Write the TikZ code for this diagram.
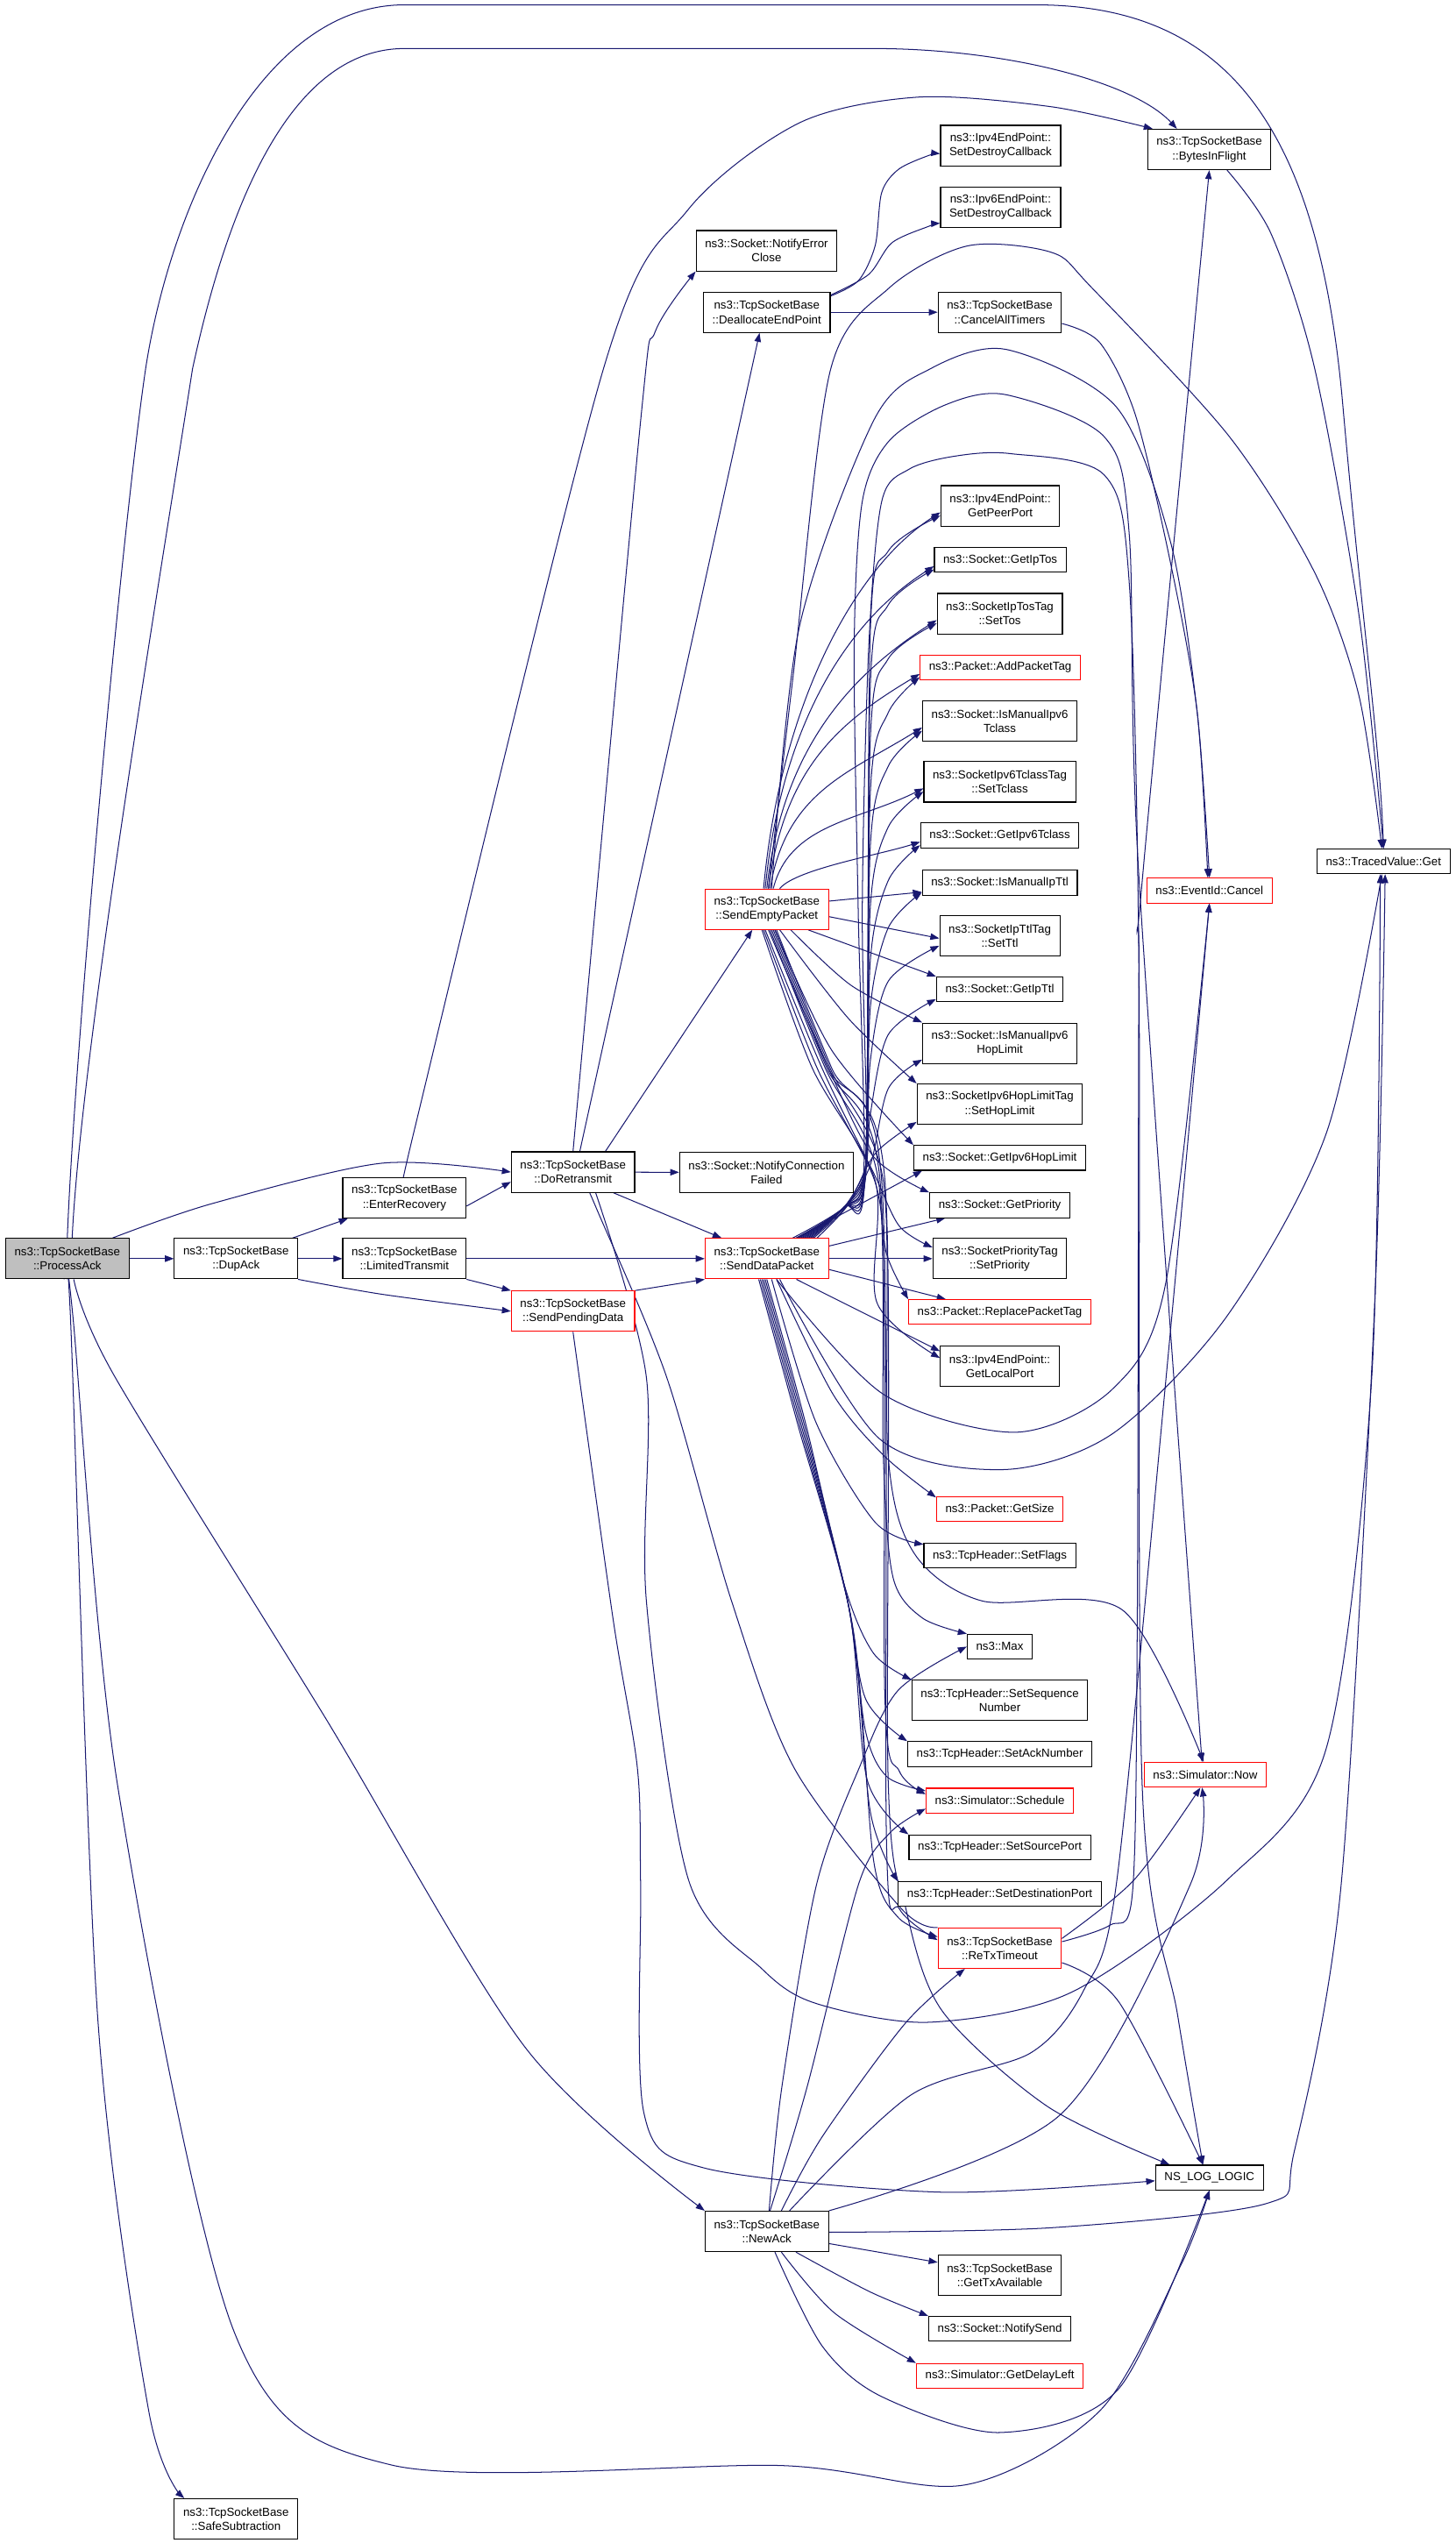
\documentclass[tikz,border=0pt]{standalone}
\usepackage{fontspec}
\setmainfont{Liberation Sans}
\usetikzlibrary{arrows.meta, backgrounds}
\definecolor{edgeblue}{RGB}{25,25,112}
\definecolor{rootgray}{RGB}{191,191,191}
\newcommand{\gfont}{\fontsize{7.2}{8.8}\selectfont}

\begin{document}
\begin{tikzpicture}[x=1pt, y=1pt,
  fnode/.style={draw=black, fill=white, line width=0.6pt, font=\gfont, align=center, inner xsep=5.5pt, inner ysep=1pt, minimum height=15.3pt},
  fnode2/.style={fnode, minimum height=25pt},
  trunc/.style={draw=red},
  call/.style={draw=edgeblue, line width=0.55pt, -{Triangle[length=5.5pt, width=4pt]}}
]
  \useasboundingbox (0,0) rectangle (900,-1571.9);

  \node[fnode2, fill=rootgray] (pa) at (41.6,-778) {ns3::TcpSocketBase\\::ProcessAck};
  \node[fnode2] (dup) at (145.9,-778) {ns3::TcpSocketBase\\::DupAck};
  \node[fnode2] (er) at (250,-740.5) {ns3::TcpSocketBase\\::EnterRecovery};
  \node[fnode2] (lt) at (250,-778) {ns3::TcpSocketBase\\::LimitedTransmit};
  \node[fnode2] (dr) at (354.2,-724.5) {ns3::TcpSocketBase\\::DoRetransmit};
  \node[fnode2, trunc] (spd) at (354.2,-810.5) {ns3::TcpSocketBase\\::SendPendingData};
  \node[fnode2] (nec) at (473.8,-155) {ns3::Socket::NotifyError\\Close};
  \node[fnode2] (dep) at (474,-193) {ns3::TcpSocketBase\\::DeallocateEndPoint};
  \node[fnode2, trunc] (sep) at (474,-562) {ns3::TcpSocketBase\\::SendEmptyPacket};
  \node[fnode2] (ncf) at (473.8,-724.7) {ns3::Socket::NotifyConnection\\Failed};
  \node[fnode2, trunc] (sdp) at (474,-778) {ns3::TcpSocketBase\\::SendDataPacket};
  \node[fnode2] (na) at (474,-1379.3) {ns3::TcpSocketBase\\::NewAck};
  \node[fnode2] (ss) at (145.9,-1557) {ns3::TcpSocketBase\\::SafeSubtraction};

  \node[fnode2] (v4cb) at (618.5,-90) {ns3::Ipv4EndPoint::\\SetDestroyCallback};
  \node[fnode2] (v6cb) at (618.5,-128) {ns3::Ipv6EndPoint::\\SetDestroyCallback};
  \node[fnode2] (cat) at (618,-193) {ns3::TcpSocketBase\\::CancelAllTimers};
  \node[fnode2] (gpp) at (618.3,-312.7) {ns3::Ipv4EndPoint::\\GetPeerPort};
  \node[fnode] (gtos) at (618.3,-346) {ns3::Socket::GetIpTos};
  \node[fnode2] (stos) at (618,-379.3) {ns3::SocketIpTosTag\\::SetTos};
  \node[fnode, trunc] (apt) at (618.3,-412.6) {ns3::Packet::AddPacketTag};
  \node[fnode2] (imtc) at (618,-445.7) {ns3::Socket::IsManualIpv6\\Tclass};
  \node[fnode2] (stc) at (618,-483.3) {ns3::SocketIpv6TclassTag\\::SetTclass};
  \node[fnode] (gtc) at (618,-516.4) {ns3::Socket::GetIpv6Tclass};
  \node[fnode] (imttl) at (618,-545.6) {ns3::Socket::IsManualIpTtl};
  \node[fnode2] (sttl) at (618,-578.6) {ns3::SocketIpTtlTag\\::SetTtl};
  \node[fnode] (gttl) at (618,-611.6) {ns3::Socket::GetIpTtl};
  \node[fnode2] (imhl) at (618,-645) {ns3::Socket::IsManualIpv6\\HopLimit};
  \node[fnode2] (shl) at (618,-682.5) {ns3::SocketIpv6HopLimitTag\\::SetHopLimit};
  \node[fnode] (ghl) at (618,-715.7) {ns3::Socket::GetIpv6HopLimit};
  \node[fnode] (gpr) at (618,-745) {ns3::Socket::GetPriority};
  \node[fnode2] (spr) at (618,-778) {ns3::SocketPriorityTag\\::SetPriority};
  \node[fnode, trunc] (rpt) at (618,-811) {ns3::Packet::ReplacePacketTag};
  \node[fnode2] (glp) at (618,-844.4) {ns3::Ipv4EndPoint::\\GetLocalPort};
  \node[fnode, trunc] (gsz) at (618,-932.6) {ns3::Packet::GetSize};
  \node[fnode] (sfl) at (618,-961.6) {ns3::TcpHeader::SetFlags};
  \node[fnode] (max) at (618,-1017.8) {ns3::Max};
  \node[fnode2] (sseq) at (618,-1051) {ns3::TcpHeader::SetSequence\\Number};
  \node[fnode] (sack) at (618,-1084.2) {ns3::TcpHeader::SetAckNumber};
  \node[fnode, trunc] (sch) at (618,-1113) {ns3::Simulator::Schedule};
  \node[fnode] (ssp) at (618,-1141.8) {ns3::TcpHeader::SetSourcePort};
  \node[fnode] (sdpt) at (618,-1170.8) {ns3::TcpHeader::SetDestinationPort};
  \node[fnode2, trunc] (rtx) at (618,-1204.2) {ns3::TcpSocketBase\\::ReTxTimeout};
  \node[fnode2] (gtx) at (618,-1406.4) {ns3::TcpSocketBase\\::GetTxAvailable};
  \node[fnode] (nsend) at (618,-1439.5) {ns3::Socket::NotifySend};
  \node[fnode, trunc] (gdl) at (618,-1468.6) {ns3::Simulator::GetDelayLeft};

  \node[fnode2] (bif) at (747.5,-92.4) {ns3::TcpSocketBase\\::BytesInFlight};
  \node[fnode, trunc] (evc) at (747.6,-550.5) {ns3::EventId::Cancel};
  \node[fnode, trunc] (now) at (745,-1097) {ns3::Simulator::Now};
  \node[fnode] (log) at (747.6,-1346) {NS\_LOG\_LOGIC};
  \node[fnode] (tv) at (855.2,-532.4) {ns3::TracedValue::Get};

  \begin{scope}[on background layer]
  \fill[white] (0,0) rectangle (900,-1571.9);

  \draw[call] (pa.north) .. controls (46,-650) and (75,-330) .. (90,-228) .. controls (105,-130) and (160,-3) .. (250,-3) -- (640,-3) .. controls (760,-3) and (815,-80) .. (830,-250) .. controls (842,-386) and (853,-460) .. (tv.north);
  \draw[call] ([xshift=3]pa.north) .. controls (50,-650) and (100,-350) .. (119,-228) .. controls (138,-140) and (175,-30) .. (250,-30) -- (540,-30) .. controls (620,-30) and (700,-50) .. ([xshift=-20]bif.north);
  \draw[call] (pa) -- (dup);
  \draw[call] plot[smooth] coordinates {([xshift=28]pa.north) (131,-744) (236,-719) (dr.west)};
  \draw[call] plot[smooth] coordinates {([xshift=4]pa.south) (71,-851) (200,-1060) (325,-1266) (na.north west)};
  \draw[call] plot[smooth] coordinates {(pa.south) (45,-813) (72.6,-1103) (145,-1442) (241.7,-1523.6) (483,-1524) (596.4,-1536) (680,-1490) (730,-1400) (log.south)};
  \draw[call] plot[smooth] coordinates {([xshift=-2]pa.south) (43.5,-813) (60.5,-1248.5) (92,-1490.6) ([xshift=-32]ss.north)};

  \draw[call] ([xshift=35]dup.north) -- ([xshift=-35]er.south);
  \draw[call] (dup) -- (lt);
  \draw[call] plot[smooth] coordinates {(dup.south east) (236,-800) (spd.west)};

  \draw[call] ([yshift=-5]er.east) -- ([yshift=-6]dr.west);
  \draw[call] plot[smooth] coordinates {([xshift=2]er.north) (256,-699) (373,-228) (425,-130) (494,-76) (568,-60) (650,-66) ([xshift=-35]bif.north)};

  \draw[call] (lt) -- (sdp);
  \draw[call] (lt.south east) -- (spd.north west);

  \draw[call] (spd.north east) -- (sdp.south west);
  \draw[call] plot[smooth] coordinates {(spd.south) (379,-1001) (394,-1093) (396,-1165) (398,-1306) (435,-1340) (581,-1355) ([yshift=-2]log.west)};

  \draw[call] plot[smooth] coordinates {(dr.north) (396,-260) (405,-205) (nec.south west)};
  \draw[call] ([xshift=4.2]dr.north) -- ([xshift=-4.5]dep.south);
  \draw[call] ([xshift=20]dr.north) -- ([xshift=-9]sep.south);
  \draw[call] (dr) -- (ncf);
  \draw[call] ([xshift=25]dr.south) -- ([xshift=-28]sdp.north);
  \draw[call] plot[smooth] coordinates {([xshift=14]dr.south) (399.5,-851) (399.5,-989) (425.6,-1162) (471,-1217) (504.5,-1238.4) (574.3,-1250) (662,-1231.6) (758.6,-1162) (820,-1080) (848,-850) ([xshift=-2]tv.south)};

  \draw[call] plot[smooth] coordinates {([yshift=10]dep.east) (530.7,-173.4) (541,-151.7) (545,-119) (555.5,-104.6) (574.3,-96) ([yshift=-5]v4cb.west)};
  \draw[call] plot[smooth] coordinates {([yshift=10.6]dep.east) (537,-169.6) (551.4,-150) (574.3,-139.8) ([yshift=-10]v6cb.west)};
  \draw[call] (dep) -- (cat);
  \draw[call] plot[smooth] coordinates {([yshift=-7]cat.east) (680,-212) (702,-257) (723.7,-348.7) (740,-440) ([xshift=-1]evc.north)};

  \draw[call] plot[smooth] coordinates {([xshift=1]sep.north) (490,-420) (513,-230) (549.6,-178) (598,-152) (650,-156) (675,-178) (760,-270) (812.7,-354) (840,-430) ([xshift=-1]tv.north)};
  \draw[call] plot[smooth] coordinates {([xshift=3]sep.north) (494,-388) (540,-260) (575,-228) (622,-216) (690,-251.5) (723.7,-335.6) (740,-440) (evc.north)};
  \foreach \tg/\sx/\cy/\dx/\dy in {gpp/-2/110/55/35, gtos/-1/100/55/35, stos/0/90/50/32, apt/1/75/50/30, imtc/2/60/45/28, stc/4/40/40/20, gtc/8/12/25/8}
    \draw[call] ([xshift=\sx]sep.north) .. controls +(10,\cy) and +(-\dx,-\dy) .. ([yshift=-4]\tg.west);
  \draw[call] ([yshift=5]sep.east) -- ([yshift=-5.8]imttl.west);
  \draw[call] ([yshift=-4.6]sep.east) -- ([yshift=-1.4]sttl.west);
  \draw[call] ([xshift=25.6]sep.south) -- ([yshift=8]gttl.west);
  \draw[call] plot[smooth] coordinates {([xshift=14.8]sep.south) (526,-609) ([yshift=13]imhl.west)};
  \draw[call] plot[smooth] coordinates {([xshift=8]sep.south) (524.5,-629.6) (shl.north west)};
  \draw[call] plot[smooth] coordinates {([xshift=5]sep.south) (514,-649) (ghl.north west)};
  \draw[call] plot[smooth] coordinates {([xshift=1]sep.south) (512,-660) (540,-715) (gpr.north west)};
  \draw[call] plot[smooth] coordinates {([xshift=-1]sep.south) (508,-660) (540,-725) (556,-758) ([yshift=7]spr.west)};
  \draw[call] plot[smooth] coordinates {([xshift=-2]sep.south) (505,-660) (540,-728) (548,-775) (rpt.north west)};
  \draw[call] plot[smooth] coordinates {([xshift=-3]sep.south) (502,-660) (541,-730) (542,-805) ([yshift=5]glp.west)};
  \draw[call] plot[smooth] coordinates {([xshift=2]sep.south) (510,-660) (543,-730) (546,-900) (552,-975) (570,-1000) (max.north west)};
  \draw[call] plot[smooth] coordinates {([xshift=3]sep.south) (511,-660) (544,-730) (547,-1050) (556,-1095) ([yshift=4]sch.west)};
  \draw[call] plot[smooth] coordinates {([xshift=4]sep.south) (512,-660) (545,-730) (548,-1140) (556,-1180) ([yshift=5]rtx.west)};
  \draw[call] plot[smooth] coordinates {([xshift=5]sep.south) (513,-660) (546,-730) (549,-900) (565,-960) (606.8,-989.5) (693.6,-995) ([xshift=-1]now.north)};
  \draw[call] plot[smooth] coordinates {([xshift=6]sep.south) (514,-660) (547,-730) (549,-1100) (560,-1180) (582.4,-1243) (647.4,-1302) ([xshift=-24.6]log.north)};

  \foreach \tg/\sx/\ty in {gpp/19/312.7, gtos/20/346, stos/21/379.3, apt/22/412.6, imtc/23/445.7, stc/24/483.3, gtc/25/516.4, imttl/26/545.6, sttl/27/578.6, gttl/28/611.6}
    \draw[call] plot[smooth] coordinates {([xshift=\sx]sdp.north) (522,-746) (535,-722) (538,{-\ty-77}) (549,{-\ty-28}) ([yshift=-6]\tg.west)};
  \draw[call] plot[smooth] coordinates {([xshift=29]sdp.north) (523,-746) (538,-720) (549,-673) ([yshift=-10]imhl.west)};
  \draw[call] plot[smooth] coordinates {([xshift=31]sdp.north) (524,-745) (541,-713) ([yshift=-11]shl.west)};
  \draw[call] plot[smooth] coordinates {([xshift=16]sdp.north) (522,-746) (534,-722) (530.5,-563.5) (528,-400) (533,-310) (549.6,-272.5) (585,-250) (622,-244) (682.6,-270) (698,-330) (704,-542) ([xshift=-2]now.north)};
  \draw[call] plot[smooth] coordinates {([xshift=18]sdp.north) (523,-746) (535.5,-722) (533,-563.5) (537,-400) (545,-310) (562,-290) (590,-282) (624.6,-280.4) (682.6,-293.6) (698,-360) (704,-596) (706,-1103) (728,-1246) ([xshift=-4]log.north)};
  \draw[call] ([xshift=19]sdp.north) -- ([xshift=-48]ghl.south);
  \draw[call] ([yshift=7.8]sdp.east) -- ([xshift=-33.7]gpr.south);
  \draw[call] (sdp) -- (spr);
  \draw[call] ([yshift=-6.7]sdp.east) -- ([xshift=-33.4]rpt.north);
  \draw[call] ([xshift=18.3]sdp.south) -- ([yshift=9.2]glp.west);
  \draw[call] plot[smooth] coordinates {([xshift=6]sdp.south) (546,-861.8) (627.8,-885.3) (688,-858.3) (720.6,-793) (evc.south)};
  \draw[call] plot[smooth] coordinates {([xshift=8]sdp.south) (543.7,-889.4) (620,-908.4) (688,-886) (758.6,-813.3) (820,-700) ([xshift=-1]tv.south)};
  \draw[call] plot[smooth] coordinates {([xshift=6]sdp.south) (514.9,-861.8) (546.4,-899.8) ([yshift=7]gsz.west)};
  \draw[call] plot[smooth] coordinates {([xshift=3]sdp.south) (504.3,-879) (541,-941) ([yshift=7]sfl.west)};
  \draw[call] plot[smooth] coordinates {(sdp.south) (498,-880) (522,-980) (540,-1022) (sseq.north west)};
  \draw[call] plot[smooth] coordinates {([xshift=-1]sdp.south) (497,-880) (523,-985) (535,-1050) (sack.north west)};
  \draw[call] plot[smooth] coordinates {([xshift=-2]sdp.south) (496,-880) (524,-990) (535,-1070) (548,-1098) ([yshift=6]sch.west)};
  \draw[call] plot[smooth] coordinates {([xshift=-3]sdp.south) (495,-880) (525,-995) (536,-1100) (ssp.north west)};
  \draw[call] plot[smooth] coordinates {([xshift=-4]sdp.south) (494,-880) (526,-1000) (538,-1120) (sdpt.north west)};
  \draw[call] plot[smooth] coordinates {([xshift=-5]sdp.south) (493,-880) (527,-1005) (540,-1150) (555,-1185) ([yshift=7]rtx.west)};

  \draw[call] plot[smooth] coordinates {(rtx.north west) (557,-1179.6) (491,-1093) (452,-989) (412,-851) (369,-747.7) ([xshift=10]dr.south)};
  \draw[call] plot[smooth] coordinates {([yshift=6]rtx.east) (701,-1162) ([xshift=-3]now.south)};
  \draw[call] plot[smooth] coordinates {([yshift=-9]rtx.east) (691.7,-1237.6) ([xshift=-4]log.north)};
  \draw[call] plot[smooth] coordinates {([yshift=4]rtx.east) (686,-1190) (700,-1170) (703,-1000) (704,-600) (706,-545) (bif.south)};

  \draw[call] plot[smooth] coordinates {([xshift=1.4]na.north) (483.3,-1290) (504.7,-1165) (531,-1093) (555,-1045) (max.west)};
  \draw[call] plot[smooth] coordinates {([xshift=2]na.north) (499,-1289.6) (530.6,-1165) (550,-1133) ([yshift=-5]sch.west)};
  \draw[call] plot[smooth] coordinates {([xshift=9]na.north) (508.4,-1320.5) (559.7,-1250.5) ([xshift=-21.6]rtx.south)};
  \draw[call] plot[smooth] coordinates {([xshift=14]na.north) (563,-1295) (637,-1269) (670,-1230) (690,-1165) (720,-860) (evc.south)};
  \draw[call] plot[smooth] coordinates {(na.north east) (655,-1307.5) (735.7,-1165) ([xshift=-2]now.south)};
  \draw[call] plot[smooth] coordinates {([yshift=-0.5]na.east) (650,-1377) (783,-1362) (800,-1330) (829,-1165) (850,-800) ([xshift=1]tv.south)};
  \draw[call] ([yshift=-7.5]na.east) -- ([yshift=8]gtx.west);
  \draw[call] plot[smooth] coordinates {([xshift=18]na.south) (537.7,-1416.6) (nsend.north west)};
  \draw[call] plot[smooth] coordinates {([xshift=9]na.south) (515.7,-1429.6) (gdl.north west)};
  \draw[call] plot[smooth] coordinates {([xshift=5]na.south) (508.4,-1450.4) (545,-1481.4) (618.2,-1503.6) (691.7,-1476.3) (log.south)};

  \draw[call] plot[smooth] coordinates {([xshift=11]bif.south) (785.7,-144.5) (812.7,-228) (840,-380) (tv.north)};
  \end{scope}
\end{tikzpicture}
\end{document}
